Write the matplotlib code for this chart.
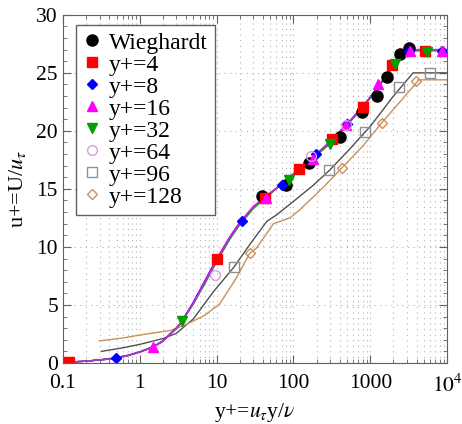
import numpy as np
from matplotlib import pyplot as plt
from matplotlib.ticker import LogLocator, MultipleLocator, NullFormatter

plt.rcParams['font.family'] = ['Liberation Serif', 'DejaVu Serif']
plt.rcParams['mathtext.fontset'] = 'stix'

# Wieghardt experiment
wieg_x = [38.6, 80, 161, 404, 789, 1238, 1640, 2443, 3199]
wieg_y = [14.4, 15.3, 17.2, 19.5, 21.6, 23.0, 24.6, 26.6, 27.1]

# near-wall curves (y+=4 ... 64) - lines
base_x = [0.1, 0.2, 0.4, 0.7, 1.0, 1.5, 2.0, 3.0, 3.5, 5.0, 7.0, 10, 15, 20, 30, 43, 70, 120, 200,
          300, 500, 800, 1300, 2000, 2500, 3000, 4000, 10000]
line4_y = [0.05, 0.15, 0.35, 0.65, 0.95, 1.4, 1.9, 3.0, 3.55, 5.2, 7.0, 8.9, 10.8, 12.0, 13.4, 14.3,
           15.4, 16.7, 18.0, 19.1, 20.6, 22.1, 23.9, 25.7, 26.5, 26.9, 27.0, 27.0]
line8_y = [0.05, 0.15, 0.35, 0.65, 0.95, 1.4, 1.9, 3.0, 3.55, 5.25, 7.05, 8.95, 10.9, 12.1, 13.4,
           14.3, 15.4, 16.7, 18.0, 19.0, 20.6, 22.1, 23.9, 25.7, 26.5, 26.9, 27.0, 27.0]
line16_y = [0.05, 0.15, 0.33, 0.62, 0.92, 1.35, 1.85, 2.95, 3.5, 5.2, 7.0, 8.95, 10.9, 12.1, 13.5,
            14.3, 15.4, 16.7, 18.0, 19.0, 20.6, 22.1, 23.9, 25.7, 26.5, 26.9, 27.0, 27.0]
line32_y = [0.05, 0.15, 0.33, 0.62, 0.93, 1.38, 1.88, 3.0, 3.55, 5.1, 6.8, 8.7, 10.7, 11.9, 13.3,
            14.2, 15.4, 16.6, 17.9, 18.9, 20.5, 22.0, 23.8, 25.6, 26.4, 26.8, 26.9, 26.9]
line64_y = [0.05, 0.15, 0.34, 0.64, 0.95, 1.4, 1.9, 3.0, 3.5, 5.1, 6.9, 8.8, 10.8, 12.0, 13.4, 14.3,
            15.4, 16.8, 18.0, 19.1, 20.6, 22.1, 23.9, 25.7, 26.5, 26.9, 27.0, 27.0]

# markers of each series
m4_x = [0.12, 10.2, 42.7, 119, 315, 813, 1941, 5176]
m4_y = [0.1, 9.0, 14.25, 16.7, 19.3, 22.1, 25.7, 26.9]
m8_x = [0.485, 21.2, 70, 197, 503, 3199, 8500]
m8_y = [0.4, 12.2, 15.3, 18.0, 20.6, 26.9, 26.9]
m16_x = [1.47, 43.5, 180, 484, 1270, 3300, 8500]
m16_y = [1.35, 14.2, 17.6, 20.5, 24.0, 26.9, 26.9]
m32_x = [3.5, 88, 300, 2100, 5400]
m32_y = [3.6, 15.8, 18.85, 25.8, 26.8]
m64_x = [9.5, 168, 484]
m64_y = [7.6, 17.8, 20.5]

# y+=96 curve and markers
line96_x = [0.32, 0.6, 1.0, 2.0, 3.0, 5.0, 9.0, 17, 27, 45, 60, 99, 180, 294, 500, 855, 1000, 2000,
            3600, 10000]
line96_y = [1.0, 1.3, 1.6, 2.1, 2.55, 3.8, 6.1, 8.3, 10.2, 12.2, 12.75, 13.9, 15.3, 16.6, 18.2,
            19.9, 20.4, 23.0, 25.0, 25.0]
m96_x = [17, 294, 855, 2370, 5890]
m96_y = [8.3, 16.6, 19.9, 23.8, 25.0]

# y+=128 curve and markers
line128_x = [0.3, 0.6, 1.0, 2.5, 4.0, 7.0, 11, 18, 27, 33, 55, 90, 121, 250, 425, 800, 1410, 2500,
             4300, 10000]
line128_y = [1.9, 2.15, 2.4, 2.8, 3.3, 4.1, 5.1, 7.3, 9.45, 9.9, 12.0, 12.5, 13.2, 15.2, 16.8, 18.7,
             20.7, 22.6, 24.4, 24.4]
m128_x = [27, 425, 1410, 3950]
m128_y = [9.45, 16.8, 20.7, 24.3]

fig = plt.figure(figsize=(4.62, 4.24), dpi=100)
ax = fig.add_axes([0.136, 0.144, 0.832, 0.821])

ax.plot(line96_x, line96_y, color='#505050', lw=1.0)
ax.plot(line128_x, line128_y, color='#c8915a', lw=1.0)
ax.plot(base_x, line4_y, color='red', lw=1.0)
ax.plot(base_x, line8_y, color='blue', lw=1.0)
ax.plot(base_x, line32_y, color='#00a000', lw=1.0)
ax.plot(base_x, line16_y, color='magenta', lw=1.0)
ax.plot(base_x, line64_y, color='#a040c0', lw=1.0)

ax.plot(wieg_x, wieg_y, 'o', color='black', ms=8, label='Wieghardt')
ax.plot(m4_x, m4_y, 's', color='red', ms=7, label='y+=4')
ax.plot(m8_x, m8_y, 'D', color='blue', ms=5, label='y+=8')
ax.plot(m16_x, m16_y, '^', color='magenta', ms=7, label='y+=16')
ax.plot(m32_x, m32_y, 'v', color='#00a000', ms=7, label='y+=32')
ax.plot(m64_x, m64_y, 'o', mfc='none', mec='#d89ce0', ms=7, label='y+=64')
ax.plot(m96_x, m96_y, 's', mfc='none', mec='#909090', ms=7, label='y+=96')
ax.plot(m128_x, m128_y, 'D', mfc='none', mec='#d0905a', ms=5, label='y+=128')

ax.set_xscale('log')
ax.set_xlim(0.1, 1e4)
ax.set_ylim(0, 30)
ax.set_xticks([0.1, 1, 10, 100, 1000, 1e4])
ax.set_xticklabels(['0.1', '1', '10', '100', '1000', '$10^4$'])
ax.xaxis.set_minor_locator(LogLocator(base=10, subs=np.arange(2, 10)))
ax.xaxis.set_minor_formatter(NullFormatter())
ax.yaxis.set_major_locator(MultipleLocator(5))
ax.yaxis.set_minor_locator(MultipleLocator(1))

ax.tick_params(which='both', direction='in', top=True, right=True, labelsize=15.5, color='#606060')
ax.tick_params(axis='x', pad=8)
ax.tick_params(which='major', length=6)
ax.tick_params(which='minor', length=3)
ax.grid(True, axis='x', which='both', ls=(0, (1, 4)), color='#b0b0b0', lw=0.8)
ax.grid(True, axis='y', which='major', ls=(0, (1, 4)), color='#b0b0b0', lw=0.8)
for s in ax.spines.values():
    s.set_color('#606060')

ax.set_xlabel(r'y+=$u_\tau$y/$\nu$', fontsize=15.5, labelpad=3)
ax.set_ylabel(r'u+=U/$u_\tau$', fontsize=16, labelpad=6)

leg = ax.legend(loc='upper left', fontsize=17, numpoints=1, handletextpad=0.3, handlelength=0.8,
                borderpad=0.3, labelspacing=0.02, fancybox=False, framealpha=1,
                edgecolor='#606060', bbox_to_anchor=(0.034, 0.971), borderaxespad=0)

fig.savefig('out.png', dpi=100)
